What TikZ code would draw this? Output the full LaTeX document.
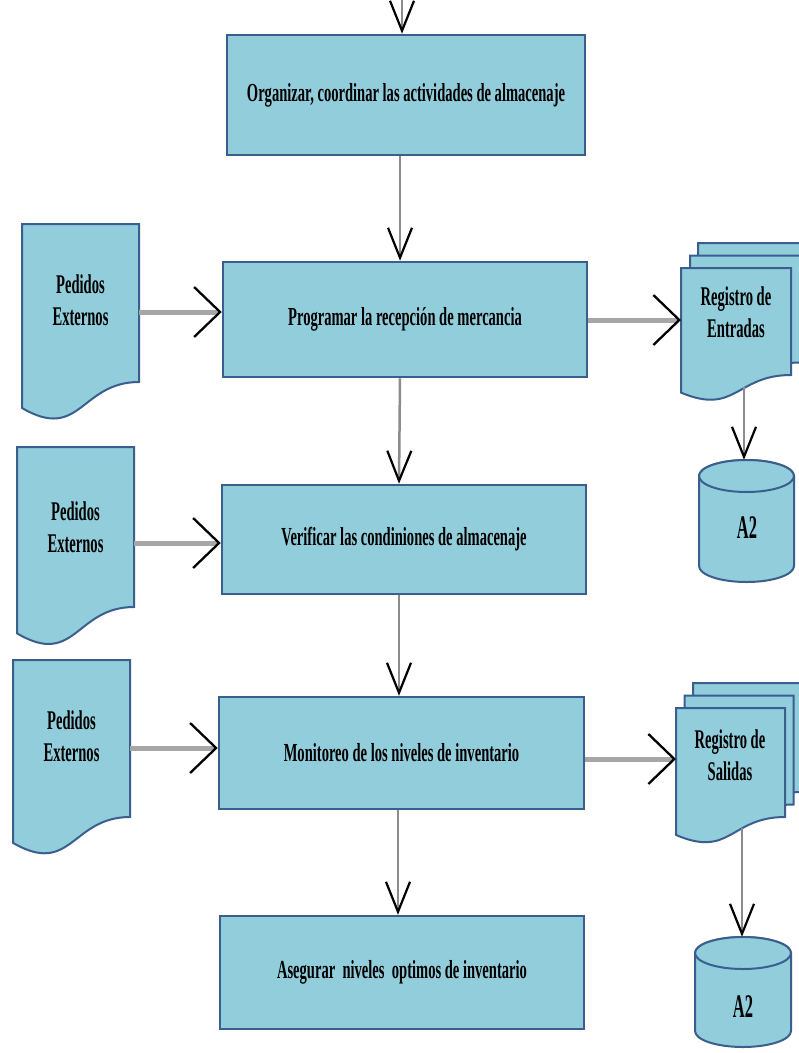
\documentclass[tikz,border=0pt]{standalone}
\usepackage{fontspec}
\newfontfamily\cfont{Liberation Serif}[FakeStretch=0.56]
\newfontfamily\dfont{Liberation Serif}[FakeStretch=0.54]
\newfontfamily\afont{Liberation Serif}[FakeStretch=0.5]
\usetikzlibrary{arrows.meta}
\definecolor{boxfill}{HTML}{92CDDC}
\definecolor{boxline}{HTML}{3A5F8E}
\definecolor{hline}{HTML}{A6A6A6}
\definecolor{vline}{HTML}{8C8C8C}
\tikzset{
 procbox/.style={draw=boxline, fill=boxfill, line width=2.5pt, inner sep=0pt, align=center,
   font=\cfont\bfseries\fontsize{26}{30}\selectfont},
 shapefill/.style={draw=boxline, fill=boxfill, line width=2pt},
 doctext/.style={inner sep=0pt, align=center, font=\dfont\bfseries\fontsize{27}{32}\selectfont},
 dbtext/.style={inner sep=0pt, font=\afont\bfseries\fontsize{33}{36}\selectfont},
 harrow/.style={draw=hline, line width=5pt, -{Straight Barb[length=26pt,width=50pt,line width=2.3pt,color=black]}},
 varrow/.style={draw=vline, line width=2.5pt, -{Straight Barb[length=30pt,width=24pt,line width=2.2pt,color=black]}},
}
\newcommand\wavedoc[4]{% L T R yR
 \pgfmathsetmacro\wdh{(#4-#2)/0.802}
 \pgfmathsetmacro\wdl{#2+0.934*\wdh}
 \pgfmathsetmacro\wdc{#2+1.1075*\wdh}
 \pgfmathsetmacro\wdm{(#1+#3)/2}
 \draw[shapefill] (#1,#2) -- (#3,#2) -- (#3,#4) .. controls (\wdm,#4) and (\wdm,\wdc) .. (#1,\wdl) -- cycle;}
\newcommand\cylshape[4]{% L T R B
 \pgfmathsetmacro\cyrx{(#3-#1)/2}
 \pgfmathsetmacro\cycx{(#1+#3)/2}
 \def\cyry{16}
 \draw[shapefill] (#1,#2+\cyry) -- (#1,#4-\cyry)
   arc[start angle=180,end angle=0,x radius=\cyrx,y radius=\cyry]
   -- (#3,#2+\cyry)
   arc[start angle=0,end angle=-180,x radius=\cyrx,y radius=\cyry] -- cycle;
 \draw[shapefill] (\cycx,#2+\cyry) ellipse[x radius=\cyrx,y radius=\cyry];}
\begin{document}
\begin{tikzpicture}[x=1pt,y=-1pt]
\useasboundingbox (0,0) rectangle (799,1053);
\fill[white] (0,0) rectangle (799,1053);

% process boxes
\node[procbox, minimum width=358pt, minimum height=120pt] (b1) at (406,95) {Organizar, coordinar las actividades de almacenaje};
\node[procbox, minimum width=364pt, minimum height=115pt] (b2) at (405,319.5) {Programar la recepción de mercancia};
\node[procbox, minimum width=364pt, minimum height=109pt] (b3) at (404,539.5) {Verificar las condiniones de almacenaje};
\node[procbox, minimum width=365pt, minimum height=112pt] (b4) at (401.5,753) {Monitoreo de los niveles de inventario};
\node[procbox, minimum width=364pt, minimum height=113pt] (b5) at (402,972.5) {Asegurar\ \ niveles\ \ optimos de inventario};

% left documents
\wavedoc{22}{224}{139}{382}
\wavedoc{17}{447}{134}{607}
\wavedoc{13}{660}{130}{817}
\node[doctext] (d1) at (80.5,300) {Pedidos\\Externos};
\node[doctext] (d2) at (75.5,527.5) {Pedidos\\Externos};
\node[doctext] (d3) at (71.5,736) {Pedidos\\Externos};

% right document stacks
\wavedoc{698}{243}{808}{350}
\wavedoc{690}{255.5}{800}{362.5}
\wavedoc{681}{268}{791}{375}
\node[doctext] (r1) at (736,312.5) {Registro de\\Entradas};
\wavedoc{693}{683}{802}{792}
\wavedoc{684.5}{695.5}{793.5}{804.5}
\wavedoc{676}{708}{785}{817}
\node[doctext] (r2) at (730,755) {Registro de\\Salidas};

% databases
\cylshape{699}{460}{794}{582}
\node[inner sep=0pt, minimum width=95pt, minimum height=122pt] (c1) at (746.5,521) {};
\node[dbtext] at (747,528) {A2};
\cylshape{695}{937}{791}{1047}
\node[inner sep=0pt, minimum width=96pt, minimum height=110pt] (c2) at (743,992) {};
\node[dbtext] at (743,1007) {A2};

% vertical flow
\coordinate (top) at (402,-5);
\draw[varrow] (top) -- ([xshift=-4pt]b1.north);
\draw[varrow] ([xshift=-6pt]b1.south) -- ([xshift=-5pt]b2.north);
\draw[varrow] ([xshift=-5pt]b2.south) -- ([xshift=-5pt]b3.north);
\draw[varrow] ([xshift=-5pt]b3.south) -- ([xshift=-2.5pt]b4.north);
\draw[varrow] ([xshift=-3.5pt]b4.south) -- ([xshift=-4pt]b5.north);

% inputs
\coordinate (d1out) at (139,312);
\coordinate (d2out) at (134,543);
\coordinate (d3out) at (130,748);
\draw[harrow] (d1out) -- (d1out -| b2.west);
\draw[harrow] (d2out) -- (d2out -| b3.west);
\draw[harrow] (d3out) -- (d3out -| b4.west);

% outputs
\coordinate (r1in) at (681,320);
\coordinate (r2in) at (676,759);
\draw[harrow] (r1in -| b2.east) -- (r1in);
\draw[harrow] (r2in -| b4.east) -- (r2in);

% to databases
\coordinate (r1out) at (744,387);
\coordinate (r2out) at (742,828);
\draw[varrow] (r1out) -- (r1out |- c1.north);
\draw[varrow] (r2out) -- (r2out |- c2.north);
\end{tikzpicture}
\end{document}
